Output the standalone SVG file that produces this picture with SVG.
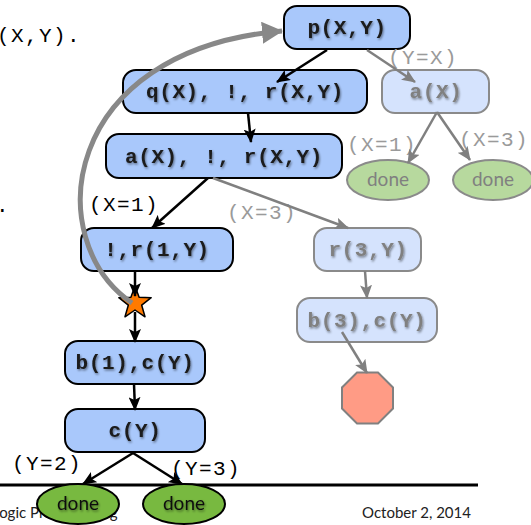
<svg xmlns="http://www.w3.org/2000/svg" width="531" height="525" viewBox="0 0 531 525">
<style>
.dk{fill:#a9c8fb;stroke:#000;stroke-width:2}
.lt{fill:#d5e3fd;stroke:#8a8a8a;stroke-width:2}
.nt{font-family:"Liberation Mono",monospace;font-weight:bold;font-size:21px;letter-spacing:0.6px;text-anchor:middle;fill:#1a1a1a;filter:url(#ts)}
.ntl{font-family:"Liberation Mono",monospace;font-weight:bold;font-size:21px;letter-spacing:0.6px;text-anchor:middle;fill:#808080;filter:url(#ts)}
.lb{font-family:"Liberation Mono",monospace;font-size:21px;letter-spacing:1.4px;fill:#000}
.lbg{font-family:"Liberation Mono",monospace;font-size:21px;letter-spacing:1.4px;fill:#9a9a9a}
.dn{fill:#78b940;stroke:#000;stroke-width:2}
.dnl{fill:#b7d99e;stroke:#8a8a8a;stroke-width:2}
.dt{font-family:Lato,"Open Sans",sans-serif;font-size:19px;text-anchor:middle;fill:#111;filter:url(#ts)}
.dtl{font-family:Lato,"Open Sans",sans-serif;font-size:19px;text-anchor:middle;fill:#808080}
.e{stroke:#000;stroke-width:2.5;fill:none;marker-end:url(#ab)}
.eg{stroke:#808080;stroke-width:2.5;fill:none;marker-end:url(#ag)}
.ft{font-family:Lato,"Open Sans",sans-serif;font-size:15px;fill:#222}
</style>
<defs>
<filter id="ts" x="-10%" y="-30%" width="130%" height="170%">
<feDropShadow dx="1" dy="1.5" stdDeviation="1" flood-color="#000" flood-opacity="0.45"/>
</filter>
<marker id="ab" markerUnits="userSpaceOnUse" markerWidth="14" markerHeight="12" refX="13" refY="6" orient="auto">
<path d="M0,0 L14,6 L0,12 L3,6 z" fill="#000"/>
</marker>
<marker id="ag" markerUnits="userSpaceOnUse" markerWidth="14" markerHeight="12" refX="13" refY="6" orient="auto">
<path d="M0,0 L14,6 L0,12 L3,6 z" fill="#808080"/>
</marker>
<marker id="abig" markerUnits="userSpaceOnUse" markerWidth="22" markerHeight="22" refX="20" refY="11" orient="auto">
<path d="M0,0 L21,11 L0,22 z" fill="#888"/>
</marker>
</defs>
<text class="lb" x="-3" y="42">(X,Y).</text>
<text class="lb" x="-4" y="212">.</text>
<text class="ft" x="-8" y="518">Logic Programming</text>
<text class="ft" x="362" y="518">October 2, 2014</text>
<line x1="0" y1="485" x2="478" y2="485" stroke="#000" stroke-width="3"/>
<g id="p"><rect class="dk" x="284" y="6" width="126" height="43" rx="13"/><text class="nt" x="347" y="34">p(X,Y)</text></g>
<g id="q"><rect class="dk" x="123" y="70" width="244" height="43" rx="13"/><text class="nt" x="245" y="98">q(X), !, r(X,Y)</text></g>
<g id="a1"><rect class="dk" x="106" y="134" width="236" height="44" rx="13"/><text class="nt" x="224" y="163">a(X), !, r(X,Y)</text></g>
<g id="r1"><rect class="dk" x="81" y="228" width="152" height="43" rx="13"/><text class="nt" x="157" y="256">!,r(1,Y)</text></g>
<g id="star"><polygon points="135,286 139.1,297.3 151.2,297.7 141.7,305.2 145,316.8 135,310 125,316.8 128.3,305.2 118.8,297.7 130.9,297.3" fill="#ff7a00" stroke="#000" stroke-width="1.5" stroke-linejoin="round"/></g>
<g id="b1"><rect class="dk" x="65" y="341" width="140" height="43" rx="13"/><text class="nt" x="135" y="369">b(1),c(Y)</text></g>
<g id="c"><rect class="dk" x="65" y="409" width="140" height="43" rx="13"/><text class="nt" x="135" y="437">c(Y)</text></g>
<g id="done1"><ellipse class="dn" cx="78" cy="504" rx="41" ry="20"/><text class="dt" x="78" y="510">done</text></g>
<g id="done2"><ellipse class="dn" cx="184" cy="504" rx="41" ry="20"/><text class="dt" x="184" y="510">done</text></g>
<g id="ax"><rect class="lt" x="382" y="70" width="107" height="43" rx="13"/><text class="ntl" x="436" y="98">a(X)</text></g>
<g id="done3"><ellipse class="dnl" cx="388" cy="180" rx="41" ry="20"/><text class="dtl" x="388" y="186">done</text></g>
<g id="done4"><ellipse class="dnl" cx="493" cy="180" rx="40" ry="20"/><text class="dtl" x="493" y="186">done</text></g>
<g id="r3"><rect class="lt" x="314" y="228" width="107" height="43" rx="13"/><text class="ntl" x="368" y="256">r(3,Y)</text></g>
<g id="b3"><rect class="lt" x="297" y="298" width="140" height="44" rx="13"/><text class="ntl" x="367" y="327">b(3),c(Y)</text></g>
<g id="fail"><polygon points="357,372.5 378,372.5 393,387.5 393,408.5 378,423.5 357,423.5 342,408.5 342,387.5" fill="#ff9b85" stroke="#808080" stroke-width="2"/></g>
<g id="labels">
<text class="lbg" x="388" y="64">(Y=X)</text>
<text class="lbg" x="347" y="151">(X=1)</text>
<text class="lbg" x="459" y="146">(X=3)</text>
<text class="lbg" x="227" y="219">(X=3)</text>
<text class="lb" x="89" y="211">(X=1)</text>
<text class="lb" x="12" y="470">(Y=2)</text>
<text class="lb" x="171" y="475">(Y=3)</text>
</g>
<g id="connectors">
<line class="e" x1="327" y1="50" x2="277" y2="82"/>
<line class="eg" x1="367" y1="50" x2="415" y2="82"/>
<line class="e" x1="248" y1="113" x2="251" y2="142"/>
<line class="e" x1="208" y1="178" x2="152" y2="228"/>
<line class="eg" x1="213" y1="178" x2="348" y2="228"/>
<line class="eg" x1="437" y1="112" x2="408" y2="163"/>
<line class="eg" x1="437" y1="112" x2="470" y2="160"/>
<line class="eg" x1="365" y1="271" x2="367" y2="298"/>
<line class="eg" x1="342" y1="332" x2="367" y2="373"/>
<line class="e" x1="135" y1="271" x2="135" y2="296"/>
<line class="e" x1="135" y1="312" x2="135" y2="342"/>
<line class="e" x1="134" y1="384" x2="135" y2="410"/>
<line class="e" x1="133" y1="453" x2="83" y2="484"/>
<line class="e" x1="133" y1="453" x2="182" y2="484"/>
<path d="M132,303 C40,240 60,50 282,31" stroke="#888" stroke-width="5" fill="none" marker-end="url(#abig)"/>
</g>
</svg>
